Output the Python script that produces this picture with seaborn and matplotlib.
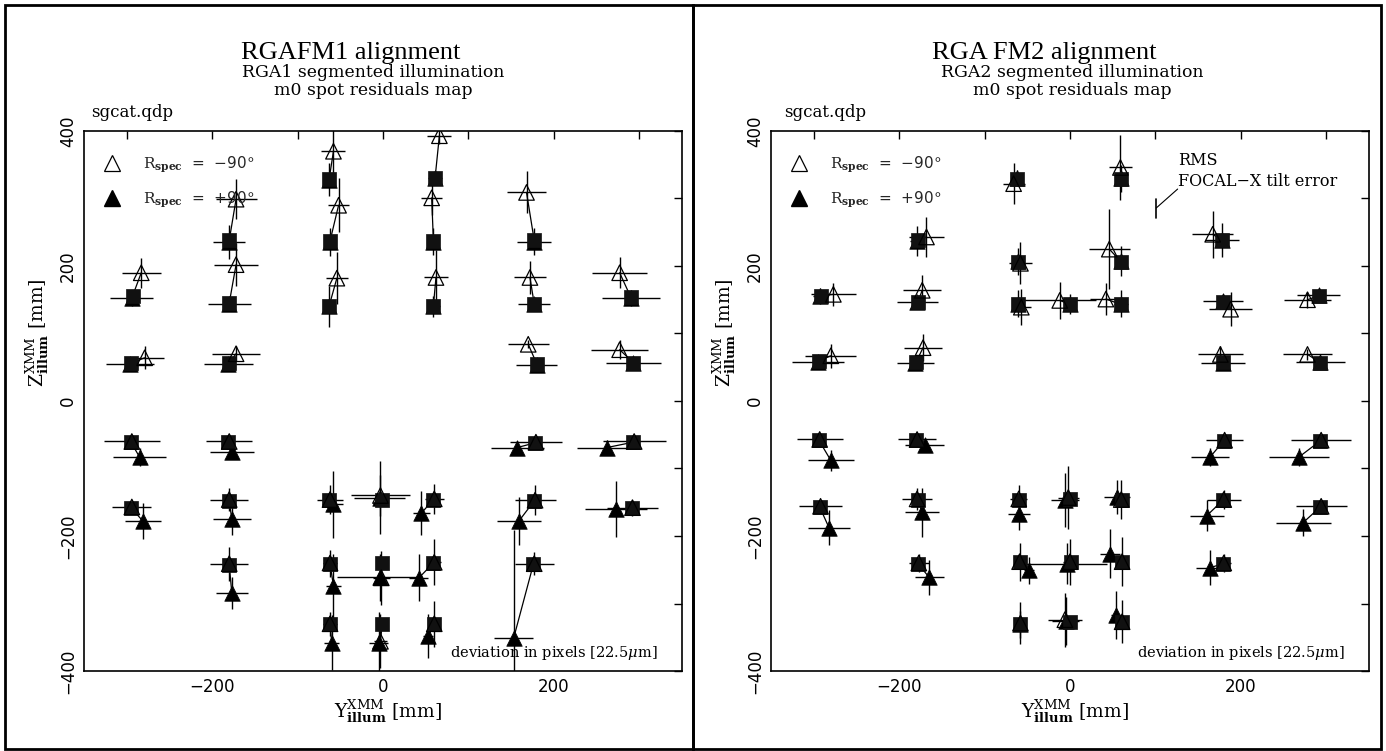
import matplotlib
matplotlib.use("Agg")
import matplotlib.pyplot as plt
import matplotlib.lines as mlines
from matplotlib.patches import Rectangle
import numpy as np
import pandas as pd
import seaborn as sns

# ---------------- data: RGA FM1 (left panel) ----------------
fm1_sq_y = [-293, -295, -180, -180, -180, -63, -62, -63, 61, 59, 59, 177, 177, 180, 290, 293,
            -295, -295, -181, -180, -180, -63, -62, -62, -1, -1, -1, 59, 59, 60, 178, 177, 176, 293, 291]
fm1_sq_z = [156, 56, 238, 145, 56, 329, 237, 141, 331, 237, 141, 238, 144, 55, 154, 57,
            -61, -158, -61, -148, -243, -147, -241, -331, -146, -240, -331, -146, -240, -331, -62, -148, -242, -61, -159]
fm1_m90_y = [-283, -279, -172, -172, -172, -58, -52, -54, 66, 57, 62, 168, 172, 170, 277, 277,
             -294, -294, -180, -180, -180, -62, -62, -62, -3, -2, -3, 60, 60, 60, 179, 178, 177, 294, 292]
fm1_m90_z = [190, 64, 299, 202, 70, 370, 290, 182, 393, 301, 183, 309, 183, 84, 190, 76,
             -60, -157, -60, -146, -241, -146, -240, -330, -140, -262, -356, -145, -239, -330, -61, -147, -241, -60, -158]
fm1_m90_ey = [23, 23, 24, 26, 28, 14, 12, 13, 14, 12, 14, 23, 19, 24, 32, 33,
              33, 23, 27, 22, 22, 15, 8, 8, 35, 10, 8, 11, 8, 6, 30, 24, 23, 37, 30]
fm1_m90_ez = [22, 17, 30, 32, 11, 40, 40, 39, 12, 25, 40, 31, 25, 6, 23, 14,
              6, 8, 6, 17, 25, 22, 20, 18, 30, 40, 40, 22, 34, 34, 6, 22, 17, 6, 12]
fm1_p90_y = [-294, -296, -180, -180, -181, -63, -62, -63, 61, 59, 59, 177, 177, 180, 290, 293,
             -285, -281, -177, -177, -177, -59, -58, -60, -4, -4, -5, 45, 42, 53, 157, 159, 153, 262, 273]
fm1_p90_z = [152, 55, 236, 144, 55, 328, 236, 140, 330, 236, 140, 236, 143, 54, 153, 56,
             -83, -178, -75, -175, -284, -153, -274, -358, -143, -261, -358, -166, -262, -348, -69, -178, -351, -69, -160]
fm1_p90_ey = [25, 28, 19, 25, 29, 6, 6, 6, 8, 6, 8, 20, 19, 24, 34, 32,
              31, 21, 26, 22, 19, 12, 9, 9, 30, 50, 11, 10, 11, 6, 31, 26, 23, 35, 36]
fm1_p90_ez = [11, 8, 25, 8, 8, 25, 21, 30, 10, 20, 15, 20, 8, 5, 12, 6,
              14, 27, 11, 23, 24, 50, 47, 41, 54, 35, 45, 32, 35, 33, 9, 36, 160, 11, 42]

# ---------------- data: RGA FM2 (right panel) ----------------
fm2_sq_y = [-292, -294, -178, -178, -180, -62, -61, -61, 0, 60, 60, 60, 178, 179, 179, 291, 293,
            -294, -293, -180, -178, -178, -60, -59, -58, 0, 1, 0, 61, 61, 61, 180, 179, 179, 293, 293]
fm2_sq_z = [156, 59, 238, 147, 58, 329, 206, 143, 143, 329, 206, 143, 238, 147, 58, 156, 57,
            -58, -157, -58, -147, -241, -146, -239, -330, -145, -239, -327, -147, -239, -328, -59, -147, -241, -59, -157]
fm2_m90_y = [-277, -280, -168, -173, -172, -66, -58, -57, -12, 59, 46, 42, 167, 188, 176, 278, 278,
             -293, -292, -179, -179, -177, -60, -59, -58, -2, 0, -6, 60, 61, 61, 181, 180, 180, 294, 294]
fm2_m90_z = [158, 67, 243, 164, 79, 322, 204, 139, 149, 346, 225, 151, 247, 136, 69, 150, 69,
             -57, -156, -57, -145, -240, -145, -238, -329, -143, -238, -324, -146, -238, -327, -58, -146, -240, -58, -156]
fm2_m90_ey = [26, 30, 20, 22, 22, 13, 13, 11, 43, 13, 24, 19, 24, 25, 26, 27, 29,
              27, 25, 22, 18, 12, 10, 6, 6, 12, 8, 20, 8, 6, 6, 22, 20, 8, 35, 30]
fm2_m90_ez = [17, 18, 30, 22, 20, 30, 31, 27, 27, 48, 59, 24, 35, 25, 12, 12, 8,
              6, 10, 5, 16, 14, 20, 28, 31, 47, 34, 40, 29, 36, 32, 5, 14, 14, 5, 6]
fm2_p90_y = [-293, -295, -179, -179, -181, -62, -61, -61, 0, 60, 60, 60, 178, 179, 179, 291, 293,
             -280, -282, -170, -173, -165, -60, -48, -59, -6, -4, -5, 55, 47, 54, 164, 160, 164, 268, 273]
fm2_p90_z = [155, 58, 237, 146, 57, 330, 207, 144, 144, 330, 207, 144, 239, 148, 57, 157, 58,
             -88, -188, -65, -165, -261, -167, -251, -331, -147, -241, -326, -142, -226, -317, -83, -170, -247, -83, -180]
fm2_p90_ey = [8, 31, 8, 24, 22, 6, 6, 6, 6, 6, 6, 8, 20, 23, 26, 25, 29,
              27, 25, 23, 20, 17, 13, 6, 6, 16, 47, 16, 15, 12, 6, 22, 20, 16, 35, 32]
fm2_p90_ez = [12, 6, 22, 10, 6, 12, 20, 20, 15, 20, 22, 20, 25, 10, 6, 10, 6,
              16, 26, 10, 36, 26, 24, 20, 20, 40, 30, 35, 25, 36, 36, 14, 23, 26, 13, 20]

# RMS scale-bar annotation (right panel)
rms_bar_y = [101, 101]
rms_bar_z = [271, 299]
rms_lead_y = [101, 126]
rms_lead_z = [286, 314]

titles = ["RGAFM1 alignment", "RGA FM2 alignment"]
subtitles1 = ["RGA1 segmented illumination", "RGA2 segmented illumination"]
subtitle2 = "m0 spot residuals map"
file_label = "sgcat.qdp"
note = "deviation in pixels [22.5$\\mu$m]"
x_ticks = [-200, 0, 200]
y_ticks = [-400, -200, 0, 200, 400]

# ---------------- figure ----------------
sns.set_theme(style="white")
plt.rcParams['font.family'] = ['DejaVu Sans']
plt.rcParams['mathtext.fontset'] = 'dejavuserif'

W, H = 1386, 751
fig = plt.figure(figsize=(W / 100, H / 100), dpi=100)


def fx(px):
    return px / W


def fy(py):
    return 1 - py / H


def make_df(sy, sz, my, mz, mey, mez, py_, pz, pey, pez):
    n = len(sy)
    for a in (sz, my, mz, mey, mez, py_, pz, pey, pez):
        assert len(a) == n
    return pd.DataFrame(dict(sq_y=sy, sq_z=sz, m_y=my, m_z=mz, m_ey=mey, m_ez=mez,
                             p_y=py_, p_z=pz, p_ey=pey, p_ez=pez))


dfs = [make_df(fm1_sq_y, fm1_sq_z, fm1_m90_y, fm1_m90_z, fm1_m90_ey, fm1_m90_ez,
               fm1_p90_y, fm1_p90_z, fm1_p90_ey, fm1_p90_ez),
       make_df(fm2_sq_y, fm2_sq_z, fm2_m90_y, fm2_m90_z, fm2_m90_ey, fm2_m90_ez,
               fm2_p90_y, fm2_p90_z, fm2_p90_ey, fm2_p90_ez)]

axes_left_px = [84, 771]
ax_w_px = 598
ax_top_px, ax_bot_px = 131, 671
title_cx = [351, 1044]
sub_cx = [373, 1072]
file_x = [91, 784]
xlabel_cx = [388, 1075]
ylabel_cx = [38, 725]

for i, df in enumerate(dfs):
    ax = fig.add_axes([fx(axes_left_px[i]), fy(ax_bot_px), ax_w_px / W,
                       (ax_bot_px - ax_top_px) / H])
    ax.set_facecolor('white')
    # error bars
    ax.errorbar(df.m_y, df.m_z, xerr=df.m_ey, yerr=df.m_ez, fmt='none',
                ecolor='black', elinewidth=1.0, capsize=0, zorder=1)
    ax.errorbar(df.p_y, df.p_z, xerr=df.p_ey, yerr=df.p_ez, fmt='none',
                ecolor='black', elinewidth=1.0, capsize=0, zorder=1)
    # connecting lines nominal -> measured
    for _, r in df.iterrows():
        ax.plot([r.sq_y, r.m_y], [r.sq_z, r.m_z], color='black', lw=0.9, zorder=2)
        ax.plot([r.sq_y, r.p_y], [r.sq_z, r.p_z], color='black', lw=0.9, zorder=2)
    # markers
    sns.scatterplot(x=df.p_y, y=df.p_z, marker='^', s=125, color='black',
                    edgecolor='black', linewidth=0.5, ax=ax, zorder=3, legend=False)
    sns.scatterplot(x=df.sq_y, y=df.sq_z, marker='s', s=95, color='#111111',
                    edgecolor='#111111', linewidth=0.5, ax=ax, zorder=4, legend=False)
    ax.scatter(df.m_y, df.m_z, marker='^', s=125, facecolors='none',
               edgecolors='black', linewidths=0.9, zorder=5)

    ax.set_xlim(-350, 350)
    ax.set_ylim(-400, 400)
    ax.set_xticks(x_ticks)
    ax.set_xticks([-300, -100, 100, 300], minor=True)
    ax.set_yticks(y_ticks)
    ax.set_yticks([-300, -100, 100, 300], minor=True)
    ax.set_xlabel('')
    ax.set_ylabel('')
    ax.tick_params(which='both', direction='in', top=True, right=True,
                   length=6, width=1, color='black', labelcolor='black',
                   labelsize=12)
    ax.tick_params(axis='x', pad=5)
    ax.tick_params(axis='y', pad=5)
    plt.setp(ax.get_yticklabels(), rotation=90, va='center')
    for sp in ax.spines.values():
        sp.set_color('black')
        sp.set_linewidth(1.2)
        sp.set_visible(True)

    # legend
    h1 = mlines.Line2D([], [], marker='^', ls='none', mfc='none', mec='black', ms=11, mew=0.9)
    h2 = mlines.Line2D([], [], marker='^', ls='none', mfc='black', mec='black', ms=11)
    ax.legend([h1, h2], [r'$\mathrm{R}_{\mathbf{spec}}$  =  $-$90$\degree$',
                         r'$\mathrm{R}_{\mathbf{spec}}$  =  +90$\degree$'],
              loc='upper left', bbox_to_anchor=(0.034, 0.957), frameon=False,
              fontsize=11, handlelength=1.0, handletextpad=1.5, labelspacing=1.0,
              borderpad=0, borderaxespad=0)

    ax.text(200, -373, note, ha='center', va='center', fontsize=10.5,
            family='DejaVu Serif', color='black')

    if i == 1:
        ax.plot(rms_bar_y, rms_bar_z, color='black', lw=1.2, zorder=2)
        ax.plot(rms_lead_y, rms_lead_z, color='black', lw=0.8, zorder=2)
        ax.text(127, 356, 'RMS', ha='left', va='center', fontsize=11.5,
                family='DejaVu Serif', color='black')
        ax.text(127, 325, 'FOCAL\u2212X tilt error', ha='left', va='center', fontsize=11.5,
                family='DejaVu Serif', color='black')

    # titles
    fig.text(fx(title_cx[i]), fy(59), titles[i], ha='center', va='baseline',
             fontsize=19, family='Liberation Serif', color='black')
    fig.text(fx(sub_cx[i]), fy(77), subtitles1[i], ha='center', va='baseline',
             fontsize=12.4, family='DejaVu Serif', color='black')
    fig.text(fx(sub_cx[i]), fy(95), subtitle2, ha='center', va='baseline',
             fontsize=12.4, family='DejaVu Serif', color='black')
    fig.text(fx(file_x[i]), fy(117), file_label, ha='left', va='baseline',
             fontsize=12, family='DejaVu Serif', color='black')
    # axis labels
    fig.text(fx(xlabel_cx[i]), fy(718),
             r'$\mathrm{Y}_{\mathbf{illum}}^{\mathrm{XMM}}$ [mm]', ha='center',
             va='baseline', fontsize=13.5, family='DejaVu Serif', color='black')
    fig.text(fx(ylabel_cx[i]), fy(333),
             r'$\mathrm{Z}_{\mathbf{illum}}^{\mathrm{XMM}}$ [mm]', ha='center',
             va='center', rotation=90, fontsize=13.5, family='DejaVu Serif', color='black')

# panel frames
for x0, x1 in [(5, 693), (693, 1381)]:
    fig.add_artist(Rectangle((fx(x0), fy(749)), (x1 - x0) / W, (749 - 5) / H,
                             transform=fig.transFigure, fill=False,
                             edgecolor='black', linewidth=2))

fig.savefig('out.png', dpi=100, facecolor='white')
